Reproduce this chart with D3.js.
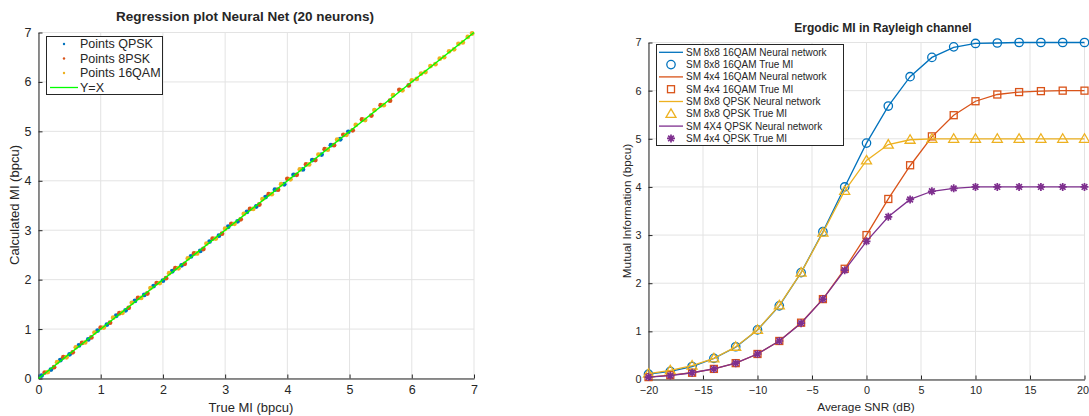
<!DOCTYPE html>
<html>
<head>
<meta charset="utf-8">
<script src="https://cdn.jsdelivr.net/npm/d3@7"></script>
<style>
  body { margin: 0; background: #fff; }
  svg text { font-family: "Liberation Sans", Arial, sans-serif; fill: #262626; }
</style>
</head>
<body>
<div id="chart"></div>
<script>
// ---- left plot data: true MI vs calculated MI
var qpskTrue = [0.05,0.2,0.35,0.5,0.65,0.8,0.95,1.1,1.25,1.4,1.55,1.7,1.85,2.0,2.15,2.3,2.45,2.6,2.75,2.9,3.05,3.2,3.35,3.5,3.65,3.8,3.95,4.1,4.25,4.4,4.55,4.7,4.85,4.98];
var qpskCalc = [0.06,0.18,0.37,0.49,0.67,0.79,0.97,1.09,1.27,1.38,1.57,1.69,1.87,1.98,2.17,2.29,2.47,2.58,2.77,2.89,3.07,3.18,3.37,3.48,3.67,3.82,3.93,4.12,4.23,4.42,4.53,4.72,4.84,4.99];
var psk8True = [0.1,0.25,0.4,0.55,0.7,0.85,1.0,1.15,1.3,1.45,1.6,1.75,1.9,2.05,2.2,2.35,2.5,2.65,2.8,2.95,3.1,3.25,3.4,3.55,3.7,3.85,4.0,4.15,4.3,4.45,4.6,4.75,4.9,5.05,5.2,5.35,5.5,5.65,5.8,5.95];
var psk8Calc = [0.12,0.23,0.43,0.53,0.72,0.83,1.03,1.13,1.32,1.43,1.63,1.72,1.93,2.03,2.23,2.32,2.53,2.62,2.83,2.93,3.13,3.22,3.43,3.52,3.73,3.82,4.04,4.12,4.33,4.42,4.64,4.72,4.93,5.02,5.24,5.32,5.53,5.62,5.84,5.93];
var qam16True = [0.15,0.3,0.45,0.6,0.75,0.9,1.05,1.2,1.35,1.5,1.65,1.8,1.95,2.1,2.25,2.4,2.55,2.7,2.85,3.0,3.15,3.3,3.45,3.6,3.75,3.9,4.05,4.2,4.35,4.5,4.65,4.8,4.95,5.1,5.25,5.4,5.55,5.7,5.85,6.0,6.08,6.15,6.22,6.3,6.38,6.45,6.52,6.6,6.68,6.75,6.82,6.9,6.97];
var qam16Calc = [0.13,0.33,0.43,0.63,0.73,0.93,1.03,1.23,1.33,1.53,1.63,1.83,1.93,2.13,2.23,2.43,2.53,2.73,2.83,3.03,3.13,3.33,3.43,3.63,3.73,3.93,4.03,4.23,4.33,4.53,4.63,4.83,4.93,5.13,5.23,5.43,5.53,5.73,5.83,6.03,6.06,6.17,6.2,6.32,6.36,6.47,6.5,6.62,6.66,6.77,6.8,6.91,6.98];
var identityLine = [0, 7];
var leftTicks = [0,1,2,3,4,5,6,7];

// ---- right plot data: ergodic MI vs SNR
var snr = [-20,-18,-16,-14,-12,-10,-8,-6,-4,-2,0,2,4,6,8,10,12,14,16,18,20];
var qam16x8True = [0.11,0.17,0.27,0.44,0.68,1.03,1.53,2.22,3.07,4.0,4.91,5.68,6.29,6.69,6.91,6.98,6.99,7.0,7.0,7.0,7.0];
var qam16x8Nn   = [0.11,0.17,0.27,0.44,0.67,1.03,1.53,2.22,3.07,4.0,4.91,5.68,6.29,6.69,6.9,6.98,6.99,7.0,7.0,7.0,7.0];
var qam16x4True = [0.05,0.09,0.14,0.22,0.34,0.53,0.8,1.18,1.67,2.3,3.0,3.75,4.45,5.05,5.49,5.78,5.92,5.97,5.99,6.0,6.0];
var qam16x4Nn   = [0.05,0.09,0.14,0.22,0.34,0.53,0.8,1.18,1.67,2.3,3.0,3.75,4.44,5.04,5.49,5.78,5.92,5.97,5.99,6.0,6.0];
var qpsk8x8True = [0.12,0.19,0.29,0.44,0.68,1.03,1.54,2.22,3.05,3.92,4.55,4.88,4.98,5.0,5.0,5.0,5.0,5.0,5.0,5.0,5.0];
var qpsk8x8Nn   = [0.12,0.19,0.29,0.44,0.68,1.03,1.54,2.22,3.05,3.92,4.55,4.88,4.98,5.0,5.0,5.0,5.0,5.0,5.0,5.0,5.0];
var qpsk4x4True = [0.05,0.08,0.14,0.22,0.34,0.53,0.8,1.17,1.67,2.27,2.87,3.38,3.74,3.91,3.97,4.0,4.0,4.0,4.0,4.0,4.0];
var qpsk4x4Nn   = [0.05,0.08,0.14,0.22,0.34,0.53,0.8,1.17,1.67,2.27,2.87,3.38,3.74,3.91,3.97,4.0,4.0,4.0,4.0,4.0,4.0];
var snrTicks = [-20,-15,-10,-5,0,5,10,15,20];
var miTicks = [0,1,2,3,4,5,6,7];

var blue = "#0072BD", orange = "#D95319", yellow = "#EDB120", purple = "#7E2F8E", green = "#00FF00";
var axisColor = "#262626", gridColor = "#e3e3e3";

var svg = d3.select("#chart").append("svg")
  .attr("width", 1089)
  .attr("height", 416);
svg.append("rect").attr("width", 1089).attr("height", 416).attr("fill", "#fff");

// draws grid, inward ticks and left/bottom axis lines (matlab style, box off)
function drawFrame(g, x, y, xt, yt, fontSize) {
  var x0 = x.range()[0], x1 = x.range()[1];
  var y0 = y.range()[0], y1 = y.range()[1];
  g.selectAll(".vgrid").data(xt).enter().append("line")
    .attr("x1", d => x(d)).attr("x2", d => x(d))
    .attr("y1", y0).attr("y2", y1)
    .attr("stroke", gridColor).attr("stroke-width", 1);
  g.selectAll(".hgrid").data(yt).enter().append("line")
    .attr("y1", d => y(d)).attr("y2", d => y(d))
    .attr("x1", x0).attr("x2", x1)
    .attr("stroke", gridColor).attr("stroke-width", 1);

  var bottomAxis = d3.axisBottom(x).tickValues(xt).tickFormat(d3.format("d"))
    .tickSizeInner(-4).tickSizeOuter(0).tickPadding(7);
  var leftAxis = d3.axisLeft(y).tickValues(yt).tickFormat(d3.format("d"))
    .tickSizeInner(-4).tickSizeOuter(0).tickPadding(7);
  var xa = g.append("g").attr("transform", `translate(0,${y0})`).call(bottomAxis);
  var ya = g.append("g").attr("transform", `translate(${x0},0)`).call(leftAxis);
  [xa, ya].forEach(function(a) {
    a.select(".domain").attr("stroke", axisColor).attr("stroke-width", 1);
    a.selectAll(".tick line").attr("stroke", axisColor);
    a.selectAll(".tick text").attr("fill", axisColor)
      .style("font-family", '"Liberation Sans", Arial, sans-serif')
      .style("font-size", fontSize + "px");
  });
  return xa;
}

// ---------------- LEFT: regression plot ----------------
var xL = d3.scaleLinear().domain([0, 7]).range([38.5, 474]);
var yL = d3.scaleLinear().domain([0, 7]).range([378.5, 32.5]);
var gL = svg.append("g");
drawFrame(gL, xL, yL, leftTicks, leftTicks, 12.5);

var pointSeries = [
  {name: "Points QPSK", color: blue, t: qpskTrue, c: qpskCalc},
  {name: "Points 8PSK", color: orange, t: psk8True, c: psk8Calc},
  {name: "Points 16QAM", color: yellow, t: qam16True, c: qam16Calc}
];
pointSeries.forEach(function(s) {
  gL.append("g").selectAll("circle")
    .data(s.t.map((v, i) => [v, s.c[i]]))
    .enter().append("circle")
    .attr("cx", d => xL(d[0]))
    .attr("cy", d => yL(d[1]))
    .attr("r", 2.4)
    .attr("fill", s.color);
});
gL.append("line")
  .attr("x1", xL(identityLine[0])).attr("y1", yL(identityLine[0]))
  .attr("x2", xL(identityLine[1])).attr("y2", yL(identityLine[1]))
  .attr("stroke", green).attr("stroke-width", 1.4);

gL.append("text").attr("x", 245).attr("y", 21).attr("text-anchor", "middle")
  .style("font-size", "13.5px").style("font-weight", "bold")
  .text("Regression plot Neural Net (20 neurons)");
gL.append("text").attr("x", 251).attr("y", 412).attr("text-anchor", "middle")
  .style("font-size", "13px").text("True MI (bpcu)");
gL.append("text").attr("transform", "translate(19,205) rotate(-90)").attr("text-anchor", "middle")
  .style("font-size", "13px").text("Calculated MI (bpcu)");

// left legend
var legL = gL.append("g");
legL.append("rect").attr("x", 46.5).attr("y", 36.5).attr("width", 116).attr("height", 58)
  .attr("fill", "#fff").attr("stroke", axisColor).attr("stroke-width", 1);
var legLItems = pointSeries.map(d => ({name: d.name, color: d.color, type: "dot"}))
  .concat([{name: "Y=X", color: green, type: "line"}]);
legLItems.forEach(function(d, i) {
  var yy = 44 + i * 14.5;
  if (d.type === "dot") {
    legL.append("circle").attr("cx", 64).attr("cy", yy).attr("r", 1.2).attr("fill", d.color);
  } else {
    legL.append("line").attr("x1", 50).attr("x2", 78).attr("y1", yy).attr("y2", yy)
      .attr("stroke", d.color).attr("stroke-width", 1.3);
  }
  legL.append("text").attr("x", 80).attr("y", yy + 4.3).style("font-size", "12.5px").text(d.name);
});

// ---------------- RIGHT: ergodic MI ----------------
var xR = d3.scaleLinear().domain([-20, 20]).range([648.5, 1084.5]);
var yR = d3.scaleLinear().domain([0, 7]).range([379.5, 42.5]);
var gR = svg.append("g");
var xaR = drawFrame(gR, xR, yR, snrTicks, miTicks, 10.8);
xaR.selectAll(".tick text").filter(d => d === 20).attr("dx", "-2px");

var curves = [
  {nn: qam16x8Nn, tr: qam16x8True, color: blue, marker: "circle",
   nnName: "SM 8x8 16QAM Neural network", trName: "SM 8x8 16QAM True MI"},
  {nn: qam16x4Nn, tr: qam16x4True, color: orange, marker: "square",
   nnName: "SM 4x4 16QAM Neural network", trName: "SM 4x4 16QAM True MI"},
  {nn: qpsk8x8Nn, tr: qpsk8x8True, color: yellow, marker: "triangle",
   nnName: "SM 8x8 QPSK Neural network", trName: "SM 8x8 QPSK True MI"},
  {nn: qpsk4x4Nn, tr: qpsk4x4True, color: purple, marker: "asterisk",
   nnName: "SM 4X4 QPSK Neural network", trName: "SM 4x4 QPSK True MI"}
];

function drawMarker(g, type, cx, cy, color) {
  if (type === "circle") {
    g.append("circle").attr("cx", cx).attr("cy", cy).attr("r", 4.2)
      .attr("fill", "none").attr("stroke", color).attr("stroke-width", 1.3);
  } else if (type === "square") {
    g.append("rect").attr("x", cx - 3.5).attr("y", cy - 3.5).attr("width", 7).attr("height", 7)
      .attr("fill", "none").attr("stroke", color).attr("stroke-width", 1.3);
  } else if (type === "triangle") {
    g.append("path").attr("d", `M${cx},${cy - 5}L${cx + 5},${cy + 3.5}L${cx - 5},${cy + 3.5}Z`)
      .attr("fill", "none").attr("stroke", color).attr("stroke-width", 1.3);
  } else {
    var r = 4;
    var p = "";
    [0, 45, 90, 135].forEach(function(a) {
      var rad = a * Math.PI / 180;
      p += `M${cx - r * Math.cos(rad)},${cy - r * Math.sin(rad)}L${cx + r * Math.cos(rad)},${cy + r * Math.sin(rad)}`;
    });
    g.append("path").attr("d", p).attr("stroke", color).attr("stroke-width", 1.7).attr("fill", "none");
  }
}

var line = d3.line().x(d => xR(d[0])).y(d => yR(d[1]));
curves.forEach(function(c) {
  gR.append("path").datum(snr.map((s, i) => [s, c.nn[i]]))
    .attr("d", line).attr("fill", "none").attr("stroke", c.color).attr("stroke-width", 1.3);
  var mg = gR.append("g");
  snr.forEach(function(s, i) { drawMarker(mg, c.marker, xR(s), yR(c.tr[i]), c.color); });
});

gR.append("text").attr("x", 883).attr("y", 32).attr("text-anchor", "middle")
  .style("font-size", "12px").style("font-weight", "bold")
  .text("Ergodic MI in Rayleigh channel");
gR.append("text").attr("x", 866).attr("y", 411).attr("text-anchor", "middle")
  .style("font-size", "11.8px").text("Average SNR (dB)");
gR.append("text").attr("transform", "translate(631,211) rotate(-90)").attr("text-anchor", "middle")
  .style("font-size", "11.8px").text("Mutual Information (bpcu)");

// right legend
var legR = gR.append("g");
legR.append("rect").attr("x", 656.5).attr("y", 44.5).attr("width", 187).attr("height", 101)
  .attr("fill", "#fff").attr("stroke", axisColor).attr("stroke-width", 1);
curves.forEach(function(c, k) {
  var y1 = 52.3 + k * 2 * 12.3, y2 = y1 + 12.3;
  legR.append("line").attr("x1", 659).attr("x2", 683).attr("y1", y1).attr("y2", y1)
    .attr("stroke", c.color).attr("stroke-width", 1.3);
  legR.append("text").attr("x", 686).attr("y", y1 + 3.5).style("font-size", "10px").text(c.nnName);
  drawMarker(legR, c.marker, 671, y2, c.color);
  legR.append("text").attr("x", 686).attr("y", y2 + 3.5).style("font-size", "10px").text(c.trName);
});
</script>
</body>
</html>
